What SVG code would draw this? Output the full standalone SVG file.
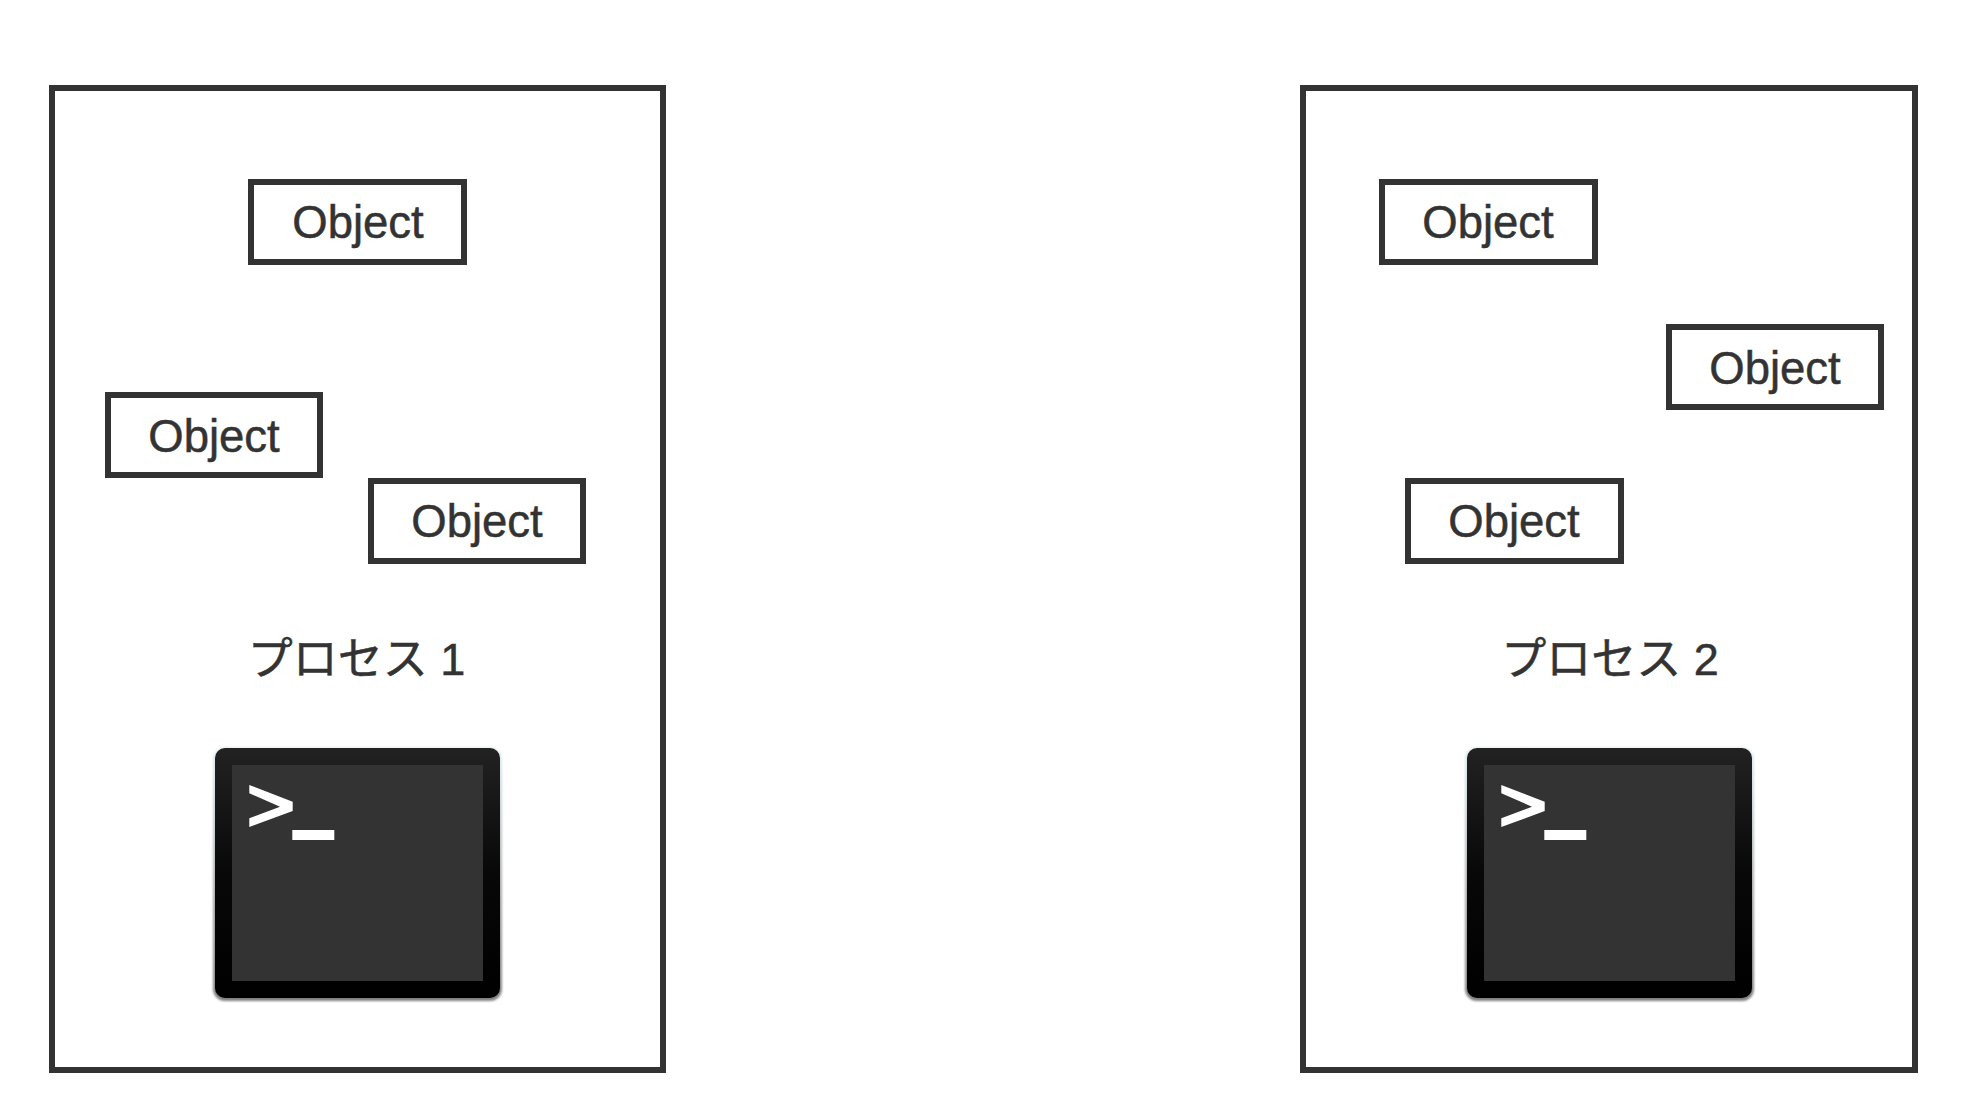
<svg xmlns="http://www.w3.org/2000/svg" width="1972" height="1120" viewBox="0 0 1972 1120">
<style>
.proc{fill:#fff;stroke:#333;stroke-width:6}
.obj{fill:#fff;stroke:#333;stroke-width:6}
text{font-family:"Liberation Sans","Noto Sans CJK JP",sans-serif;fill:#333;stroke:#333;stroke-width:0.5;font-size:45.5px;text-anchor:middle}
text.label{font-size:45px}
</style>
<defs>
<linearGradient id="bezel" x1="0" y1="0" x2="0" y2="1"><stop offset="0" stop-color="#222"/><stop offset="0.5" stop-color="#080808"/><stop offset="1" stop-color="#000"/></linearGradient>
<linearGradient id="edge" x1="0" y1="0" x2="0" y2="1"><stop offset="0" stop-color="#e2eef3"/><stop offset="0.6" stop-color="#a8a8a8"/><stop offset="1" stop-color="#808080"/></linearGradient>
<filter id="soft" x="-5%" y="-5%" width="110%" height="110%"><feGaussianBlur stdDeviation="1"/></filter>
<g id="terminal">
<rect x="-2" y="-1" width="289" height="254" rx="12" fill="url(#edge)" filter="url(#soft)"/>
<rect x="0" y="0" width="285" height="250" rx="10" fill="url(#bezel)"/>
<rect x="17" y="17" width="251" height="216" fill="#333"/>
<polygon points="34.3,37 77.7,53.7 77.7,63 34.3,79 34.3,70.3 65,58.7 34.3,45.3" fill="#fff"/>
<rect x="77.3" y="82" width="42" height="10" fill="#fff"/>
</g>
</defs>
<g id="process-1">
<rect class="proc" x="52" y="88" width="611" height="982"/>
<text class="label" x="356.5" y="675">プロセス 1</text>
</g>
<g id="process-2">
<rect class="proc" x="1303" y="88" width="612" height="982"/>
<text class="label" x="1610" y="675">プロセス 2</text>
</g>
<g id="object-1-1"><rect class="obj" x="251" y="182" width="213" height="80"/><text x="358" y="238">Object</text></g>
<g id="object-1-2"><rect class="obj" x="108" y="395" width="212" height="80"/><text x="214" y="452">Object</text></g>
<g id="object-1-3"><rect class="obj" x="371" y="481" width="212" height="80"/><text x="477" y="537">Object</text></g>
<g id="object-2-1"><rect class="obj" x="1382" y="182" width="213" height="80"/><text x="1488" y="238">Object</text></g>
<g id="object-2-2"><rect class="obj" x="1669" y="327" width="212" height="80"/><text x="1775" y="384">Object</text></g>
<g id="object-2-3"><rect class="obj" x="1408" y="481" width="213" height="80"/><text x="1514" y="537">Object</text></g>
<g id="terminal-1"><use href="#terminal" x="215" y="748"/></g>
<g id="terminal-2"><use href="#terminal" x="1467" y="748"/></g>
<g id="connectors"></g>
</svg>
